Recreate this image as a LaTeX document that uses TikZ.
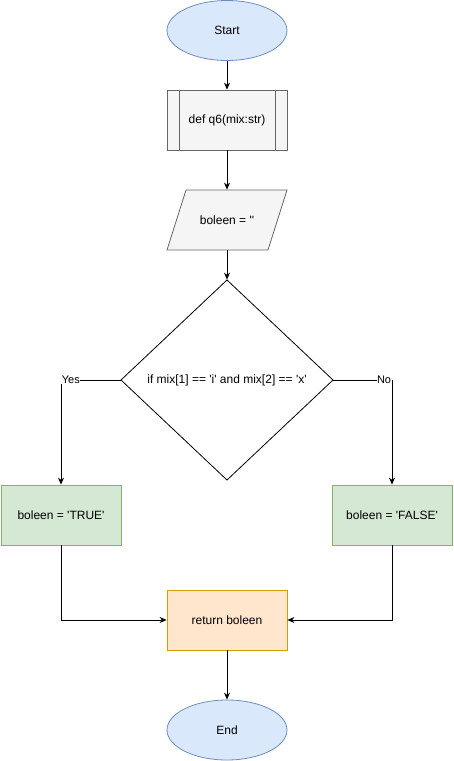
\documentclass[tikz,border=0pt]{standalone}
\usepackage{fontspec}
\setmainfont{Liberation Sans}
\usetikzlibrary{shapes.geometric,arrows.meta}
\newcommand{\sqt}{\textquotesingle}
\definecolor{bluefill}{HTML}{DAE8FC}
\definecolor{bluedraw}{HTML}{6C8EBF}
\definecolor{greyfill}{HTML}{F5F5F5}
\definecolor{greydraw}{HTML}{666666}
\definecolor{greenfill}{HTML}{D5E8D4}
\definecolor{greendraw}{HTML}{82B366}
\definecolor{orangefill}{HTML}{FFE6CC}
\definecolor{orangedraw}{HTML}{D79B00}
\tikzset{
  base/.style={font=\fontsize{12}{14}\selectfont, inner sep=0pt, line width=0.8pt},
  term/.style={base, ellipse, draw=bluedraw, fill=bluefill, minimum width=120pt, minimum height=60pt},
  procbox/.style={base, rectangle, draw=greydraw, fill=greyfill, minimum width=120pt, minimum height=60pt},
  greenbox/.style={base, rectangle, draw=greendraw, fill=greenfill, minimum width=120pt, minimum height=60pt},
  orangebox/.style={base, rectangle, draw=orangedraw, fill=orangefill, minimum width=120pt, minimum height=60pt},
  arr/.style={-{Stealth[length=7pt,width=6pt]}, line width=0.8pt},
  lbl/.style={font=\fontsize{11}{13}\selectfont, fill=white, inner sep=0.5pt}
}
\begin{document}
\begin{tikzpicture}[x=1pt,y=-1pt]
\useasboundingbox (0,0) rectangle (454,761);
% nodes
\node[term] (start) at (227,30.5) {Start};
\node[procbox] (def) at (227,120) {def q6(mix:str)};
\draw[greydraw, line width=0.8pt] ([xshift=12.5pt]def.north west) -- ([xshift=12.5pt]def.south west)
  ([xshift=-12.5pt]def.north east) -- ([xshift=-12.5pt]def.south east);
\filldraw[draw=greydraw, fill=greyfill, line width=0.8pt] (186,190) -- (287,190) -- (268,250) -- (167,250) -- cycle;
\node[base, minimum width=120pt, minimum height=60pt] (init) at (227,220) {boleen = \sqt\sqt};
\draw[black, fill=white, line width=0.8pt] (227,280) -- (333,380) -- (227,480) -- (121,380) -- cycle;
\node[base, minimum width=212pt, minimum height=200pt] (dia) at (227,380) {};
\node[base] (diatext) at (227,380) {if mix[1] == \sqt i\sqt{} and mix[2] == \sqt x\sqt};
\coordinate (diaL) at (121,380);
\coordinate (diaR) at (333,380);
\node[greenbox] (true) at (61,515) {boleen = \sqt TRUE\sqt};
\node[greenbox] (false) at (392,515) {boleen = \sqt FALSE\sqt};
\node[orangebox] (ret) at (227,620) {return boleen};
\node[term] (end) at (227,730) {End};
% connectors
\draw[arr] (start) -- (def);
\draw[arr] (def) -- (init.north);
\draw[arr] (init.south) -- (dia.north);
\draw[arr] (diaL) -| node[lbl, pos=0.5, anchor=west] {Yes} (true.north);
\draw[arr] (diaR) -| node[lbl, pos=0.5, anchor=east] {No} (false.north);
\draw[arr] (true.south) |- (ret.west);
\draw[arr] (false.south) |- (ret.east);
\draw[arr] (ret) -- (end);
\end{tikzpicture}
\end{document}
